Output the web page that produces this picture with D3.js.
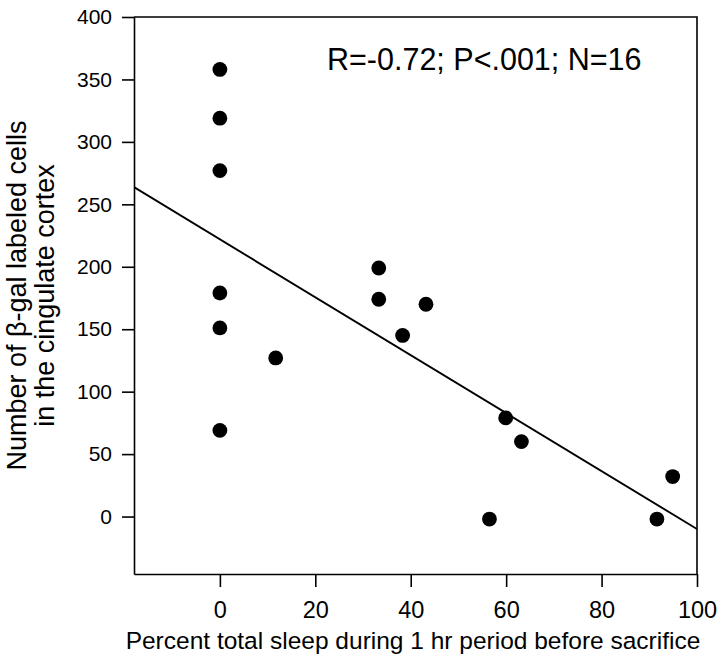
<!DOCTYPE html>
<html>
<head>
<meta charset="utf-8">
<script src="https://cdn.jsdelivr.net/npm/d3@7/dist/d3.min.js"></script>
<style>
  html, body { margin: 0; padding: 0; background: #fff; }
  svg { display: block; }
  text { font-family: "Liberation Sans", Arial, Helvetica, sans-serif; fill: #000; }
</style>
</head>
<body>
<svg id="chart" width="720" height="667"></svg>
<script>
// ---- data ----
const sleepPercent = [0, 0, 0, 0, 0, 0, 11.7, 33.3, 33.3, 38.3, 43.2, 56.5, 59.9, 63.2, 91.6, 94.9];
const labeledCells = [358, 319, 277, 179, 151, 69, 127, 199, 174, 145, 170, -2, 79, 60, -2, 32];
const xTicks = [0, 20, 40, 60, 80, 100];
const yTicks = [0, 50, 100, 150, 200, 250, 300, 350, 400];
const xDomain = [-18, 100];
const yDomain = [-46, 400];
const fitIntercept = 222.0;
const fitSlope = -2.32;
const xTitle = "Percent total sleep during 1 hr period before sacrifice";
const yTitleLines = ["Number of \u03b2-gal labeled cells", "in the cingulate cortex"];
const annotation = "R=-0.72; P<.001; N=16";

// ---- layout ----
const box = { left: 134, right: 697, top: 17, bottom: 574 };
const svg = d3.select("#chart");

const x = d3.scaleLinear().domain(xDomain).range([box.left, box.right]);
const y = d3.scaleLinear().domain(yDomain).range([box.bottom, box.top]);

// frame (top + right)
svg.append("path")
  .attr("d", `M${box.left},${box.top}H${box.right}V${box.bottom}`)
  .attr("fill", "none").attr("stroke", "#000").attr("stroke-width", 1.6);

// x axis
const xAxis = svg.append("g")
  .attr("transform", `translate(0,${box.bottom})`)
  .call(d3.axisBottom(x).tickValues(xTicks).tickSize(13).tickPadding(14).tickSizeOuter(0));
xAxis.attr("font-family", null);
xAxis.select(".domain").attr("stroke-width", 1.6);
xAxis.selectAll(".tick line").attr("stroke-width", 1.6);
xAxis.selectAll(".tick text").attr("font-size", 23.5);

// y axis
const yAxis = svg.append("g")
  .attr("transform", `translate(${box.left},0)`)
  .call(d3.axisLeft(y).tickValues(yTicks).tickSize(12).tickPadding(10).tickSizeOuter(0));
yAxis.attr("font-family", null);
yAxis.select(".domain").attr("stroke-width", 1.6);
yAxis.selectAll(".tick line").attr("stroke-width", 1.6);
yAxis.selectAll(".tick text").attr("font-size", 21);

// regression line, clipped to frame
svg.append("clipPath").attr("id", "clip")
  .append("rect").attr("x", box.left).attr("y", box.top)
  .attr("width", box.right - box.left).attr("height", box.bottom - box.top);
const fit = xDomain.map(v => [v, fitIntercept + fitSlope * v]);
svg.append("path")
  .attr("clip-path", "url(#clip)")
  .attr("d", d3.line().x(d => x(d[0])).y(d => y(d[1]))(fit))
  .attr("fill", "none").attr("stroke", "#000").attr("stroke-width", 1.9);

// points
svg.append("g").selectAll("circle")
  .data(sleepPercent.map((v, i) => [v, labeledCells[i]]))
  .join("circle")
  .attr("cx", d => x(d[0])).attr("cy", d => y(d[1]))
  .attr("r", 7.4).attr("fill", "#000");

// annotation
svg.append("text")
  .attr("x", 327).attr("y", 70)
  .attr("font-size", 30.5)
  .text(annotation);

// x title
svg.append("text")
  .attr("x", 413).attr("y", 649)
  .attr("text-anchor", "middle")
  .attr("font-size", 24.5)
  .text(xTitle);

// y title
const yt = svg.append("text")
  .attr("transform", `translate(0,${(box.top + box.bottom) / 2}) rotate(-90)`)
  .attr("text-anchor", "middle")
  .attr("font-size", 27);
yt.append("tspan").attr("x", 0).attr("y", 26).text(yTitleLines[0]);
yt.append("tspan").attr("x", 0).attr("y", 53.5).text(yTitleLines[1]);
</script>
</body>
</html>
